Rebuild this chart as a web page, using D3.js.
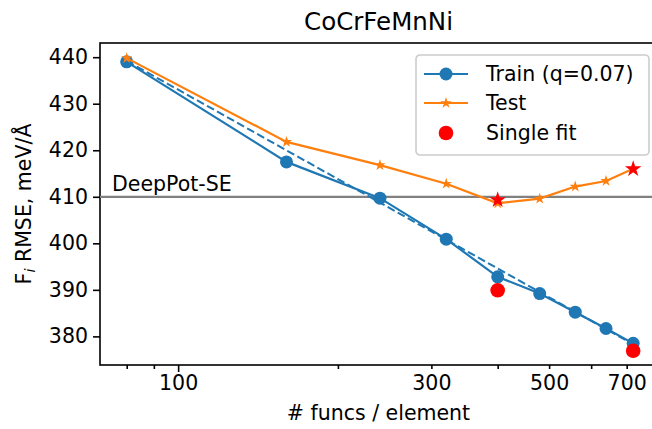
<!DOCTYPE html>
<html>
<head>
<meta charset="utf-8">
<script src="https://cdn.jsdelivr.net/npm/d3@7"></script>
<style>
  body { margin: 0; background: #fff; }
  text { font-family: "DejaVu Sans", sans-serif; fill: #000; }
</style>
</head>
<body>
<svg id="chart" width="652" height="429"></svg>
<script>
// funcs per element
var funcs = [80, 160, 240, 320, 400, 480, 560, 640, 720];
var trainRmse = [439.0, 417.5, 409.7, 400.9, 392.8, 389.2, 385.2, 381.7, 378.5];
var testRmse = [439.8, 421.8, 416.8, 412.8, 408.6, 409.6, 412.2, 413.4, 416.0];
// single fit runs
var singleFuncs = [400, 720];
var singleTrain = [389.9, 376.9];
var singleTest = [409.3, 416.0];
// dashed power-law fit of train
var fitFuncs = [80, 720];
var fitRmse = [439.2, 378.3];
var deepPot = 410;
var xTicks = [100, 300, 500, 700];
var xMinor = [80, 90, 200, 300, 400, 500, 600, 700];
var yTicks = [380, 390, 400, 410, 420, 430, 440];

var svg = d3.select("#chart"),
    margin = {top: 43, right: -5, bottom: 64, left: 100},
    width = +svg.attr("width"),
    height = +svg.attr("height"),
    domainwidth = width - margin.left - margin.right,
    domainheight = height - margin.top - margin.bottom;

var x = d3.scaleLog()
    .domain([71.25, 798.4])
    .range([0, domainwidth]);
var y = d3.scaleLinear()
    .domain([373.85, 443.05])
    .range([domainheight, 0]);

var blue = "#1f77b4", orange = "#ff7f0e", red = "#ff0000";

var g = svg.append("g")
    .attr("transform", "translate(" + margin.left + "," + margin.top + ")");

// axes
g.append("g")
    .attr("transform", "translate(0," + domainheight + ")")
    .call(d3.axisBottom(x).tickValues(xTicks).tickFormat(d3.format("d")).tickSize(0).tickPadding(10));
g.append("g")
    .attr("transform", "translate(0," + domainheight + ")")
    .call(d3.axisBottom(x).tickValues(xMinor).tickFormat("").tickSize(4));
g.append("g")
    .attr("transform", "translate(0," + domainheight + ")")
    .call(d3.axisBottom(x).tickValues([100]).tickFormat("").tickSize(7));
g.append("g")
    .call(d3.axisLeft(y).tickValues(yTicks).tickSize(7).tickPadding(5));

g.selectAll(".domain").remove();
g.selectAll(".tick line").attr("stroke", "#000").attr("stroke-width", 1.6);
g.selectAll(".tick text").style("font-size", "20.5px").attr("fill", "#000");

// frame
g.append("rect")
    .attr("width", domainwidth)
    .attr("height", domainheight)
    .attr("fill", "none")
    .attr("stroke", "#000")
    .attr("stroke-width", 1.6);

// reference line
g.append("line")
    .attr("x1", 0).attr("x2", domainwidth)
    .attr("y1", y(deepPot)).attr("y2", y(deepPot))
    .attr("stroke", "#808080").attr("stroke-width", 2.2);
g.append("text")
    .attr("x", 12).attr("y", y(deepPot) - 6)
    .style("font-size", "20.5px")
    .text("DeepPot-SE");

var line = d3.line()
    .x(function(d) { return x(d[0]); })
    .y(function(d) { return y(d[1]); });

g.append("path")
    .datum(d3.zip(fitFuncs, fitRmse))
    .attr("d", line)
    .attr("fill", "none").attr("stroke", blue)
    .attr("stroke-width", 2).attr("stroke-dasharray", "8,3.5");

g.append("path")
    .datum(d3.zip(funcs, trainRmse))
    .attr("d", line)
    .attr("fill", "none").attr("stroke", blue).attr("stroke-width", 2.2);
g.selectAll(".train")
    .data(d3.zip(funcs, trainRmse))
  .enter().append("circle")
    .attr("r", 6.5)
    .attr("cx", function(d) { return x(d[0]); })
    .attr("cy", function(d) { return y(d[1]); })
    .attr("fill", blue);

var star = d3.symbol().type(d3.symbolStar);

g.append("path")
    .datum(d3.zip(funcs, testRmse))
    .attr("d", line)
    .attr("fill", "none").attr("stroke", orange).attr("stroke-width", 2.2);
g.selectAll(".test")
    .data(d3.zip(funcs, testRmse))
  .enter().append("path")
    .attr("d", star.size(40)())
    .attr("transform", function(d) { return "translate(" + x(d[0]) + "," + y(d[1]) + ")"; })
    .attr("fill", orange);

g.selectAll(".single")
    .data(d3.zip(singleFuncs, singleTrain))
  .enter().append("circle")
    .attr("r", 7.3)
    .attr("cx", function(d) { return x(d[0]); })
    .attr("cy", function(d) { return y(d[1]); })
    .attr("fill", red);
g.selectAll(".singleStar")
    .data(d3.zip(singleFuncs, singleTest))
  .enter().append("path")
    .attr("d", star.size(85)())
    .attr("transform", function(d) { return "translate(" + x(d[0]) + "," + y(d[1]) + ")"; })
    .attr("fill", red);

// labels
svg.append("text")
    .attr("x", margin.left + domainwidth / 2).attr("y", 30)
    .attr("text-anchor", "middle")
    .style("font-size", "24.5px")
    .text("CoCrFeMnNi");
svg.append("text")
    .attr("x", margin.left + domainwidth / 2).attr("y", 420)
    .attr("text-anchor", "middle")
    .style("font-size", "20.5px")
    .text("# funcs / element");
var yl = svg.append("text")
    .attr("transform", "translate(31," + (margin.top + domainheight / 2) + ") rotate(-90)")
    .attr("text-anchor", "middle")
    .style("font-size", "20.5px");
yl.append("tspan").text("F");
yl.append("tspan").attr("font-style", "italic").attr("dy", 4).style("font-size", "14.5px").text("i");
yl.append("tspan").attr("dy", -4).text(" RMSE, meV/Å");

// legend
var lg = svg.append("g").attr("transform", "translate(416,55)");
lg.append("rect")
    .attr("width", 233).attr("height", 100).attr("rx", 4)
    .attr("fill", "#fff").attr("fill-opacity", 0.8)
    .attr("stroke", "#cccccc").attr("stroke-width", 1.6);
var rows = [
  {label: "Train (q=0.07)", y: 19},
  {label: "Test", y: 48},
  {label: "Single fit", y: 78}
];
lg.append("line").attr("x1", 8).attr("x2", 52).attr("y1", rows[0].y).attr("y2", rows[0].y)
    .attr("stroke", blue).attr("stroke-width", 2.2);
lg.append("circle").attr("cx", 30).attr("cy", rows[0].y).attr("r", 6.5).attr("fill", blue);
lg.append("line").attr("x1", 8).attr("x2", 52).attr("y1", rows[1].y).attr("y2", rows[1].y)
    .attr("stroke", orange).attr("stroke-width", 2.2);
lg.append("path").attr("d", star.size(40)())
    .attr("transform", "translate(30," + rows[1].y + ")").attr("fill", orange);
lg.append("circle").attr("cx", 30).attr("cy", rows[2].y).attr("r", 7.3).attr("fill", red);
lg.selectAll(".lt")
    .data(rows)
  .enter().append("text")
    .attr("x", 70)
    .attr("y", function(d) { return d.y; })
    .attr("dy", "0.35em")
    .style("font-size", "20.5px")
    .text(function(d) { return d.label; });
</script>
</body>
</html>
